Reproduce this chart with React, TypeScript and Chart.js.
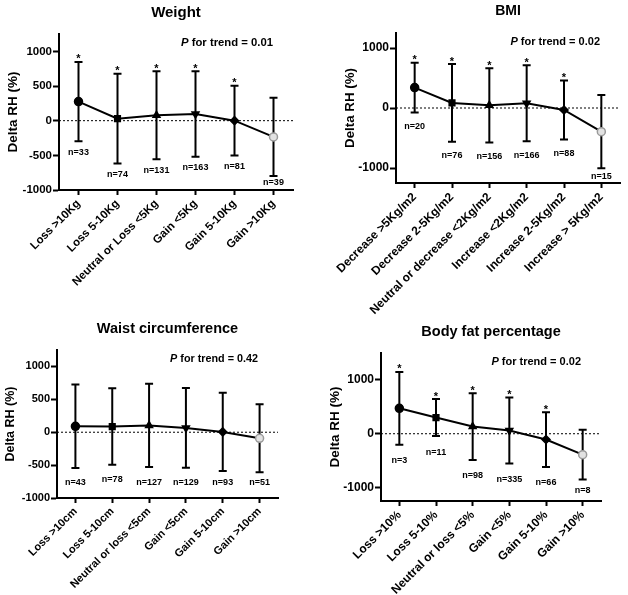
import React, { useEffect, useRef } from "react";
import { Chart, registerables } from "chart.js";

Chart.register(...registerables);

const FONT = "'Liberation Sans', Arial, Helvetica, sans-serif";

// ---------- Weight ----------
const weightCategories = ["Loss >10Kg", "Loss 5-10Kg", "Neutral or Loss <5Kg", "Gain <5Kg", "Gain 5-10Kg", "Gain >10Kg"];
const weightMeans = [275, 29, 78, 96, 0, -234];
const weightSD = [572, 647, 633, 618, 502, 563];
const weightN = [33, 74, 131, 163, 81, 39];
const weightStar = [true, true, true, true, true, false];
const weightP = "0.01";
const weightYTicks = [-1000, -500, 0, 500, 1000];

// ---------- BMI ----------
const bmiCategories = ["Decrease >5Kg/m2", "Decrease 2-5Kg/m2", "Neutral or decrease <2Kg/m2", "Increase <2Kg/m2", "Increase 2-5Kg/m2", "Increase > 5Kg/m2"];
const bmiMeans = [340, 85, 44, 78, -33, -394];
const bmiSD = [416, 648, 617, 634, 490, 609];
const bmiN = [20, 76, 156, 166, 88, 15];
const bmiStar = [true, true, true, true, true, false];
const bmiP = "0.02";
const bmiYTicks = [-1000, 0, 1000];

// ---------- Waist circumference ----------
const waistCategories = ["Loss >10cm", "Loss 5-10cm", "Neutral or loss <5cm", "Gain <5cm", "Gain 5-10cm", "Gain >10cm"];
const waistMeans = [90, 86, 104, 66, 5, -92];
const waistSD = [634, 581, 634, 606, 594, 518];
const waistN = [43, 78, 127, 129, 93, 51];
const waistStar = [false, false, false, false, false, false];
const waistP = "0.42";
const waistYTicks = [-1000, -500, 0, 500, 1000];

// ---------- Body fat percentage ----------
const fatCategories = ["Loss >10%", "Loss 5-10%", "Neutral or loss <5%", "Gain <5%", "Gain 5-10%", "Gain >10%"];
const fatMeans = [472, 300, 133, 60, -108, -389];
const fatSD = [676, 343, 621, 612, 509, 463];
const fatN = [3, 11, 98, 335, 66, 8];
const fatStar = [true, true, true, true, true, false];
const fatP = "0.02";
const fatYTicks = [-1000, 0, 1000];

const pointStyles = ["circle", "rect", "triangle", "triangle", "rectRot", "circle"];
const pointRotations = [0, 0, 0, 180, 0, 0];
const pointFills = ["#000", "#000", "#000", "#000", "#000", "#e2e2e2"];
const pointStrokes = ["#000", "#000", "#000", "#000", "#000", "#9a9a9a"];

type PanelCfg = {
  title: string;
  categories: string[];
  means: number[];
  sd: number[];
  n: number[];
  star: boolean[];
  p: string;
  yTicks: number[];
  yMin: number;
  yMax: number;
  box: { left: number; top: number; width: number; height: number };
  area: { left: number; right: number; top: number; bottom: number };
  fonts: { tick: number; x: number; yTitle: number; title: number; p: number; n: number; star: number };
  nOffset: number;
  nClamp: number;
};

const panels: PanelCfg[] = [
  {
    title: "Weight",
    categories: weightCategories, means: weightMeans, sd: weightSD, n: weightN, star: weightStar, p: weightP,
    yTicks: weightYTicks, yMin: -1000, yMax: 1250,
    box: { left: 0, top: 0, width: 314, height: 300 },
    area: { left: 59, right: 293, top: 34, bottom: 190 },
    fonts: { tick: 11.5, x: 11.5, yTitle: 13.5, title: 15, p: 11.3, n: 9, star: 11 },
    nOffset: 11, nClamp: 7,
  },
  {
    title: "BMI",
    categories: bmiCategories, means: bmiMeans, sd: bmiSD, n: bmiN, star: bmiStar, p: bmiP,
    yTicks: bmiYTicks, yMin: -1250, yMax: 1250,
    box: { left: 314, top: 0, width: 314, height: 330 },
    area: { left: 82, right: 306, top: 33, bottom: 183 },
    fonts: { tick: 12, x: 12, yTitle: 13.3, title: 14, p: 11, n: 9, star: 11 },
    nOffset: 14, nClamp: 6,
  },
  {
    title: "Waist circumference",
    categories: waistCategories, means: waistMeans, sd: waistSD, n: waistN, star: waistStar, p: waistP,
    yTicks: waistYTicks, yMin: -1000, yMax: 1250,
    box: { left: 0, top: 300, width: 314, height: 295 },
    area: { left: 57, right: 278, top: 50, bottom: 198 },
    fonts: { tick: 11, x: 11, yTitle: 12.5, title: 14.5, p: 10.8, n: 9, star: 11 },
    nOffset: 15, nClamp: 15,
  },
  {
    title: "Body fat percentage",
    categories: fatCategories, means: fatMeans, sd: fatSD, n: fatN, star: fatStar, p: fatP,
    yTicks: fatYTicks, yMin: -1250, yMax: 1500,
    box: { left: 314, top: 300, width: 314, height: 295 },
    area: { left: 67, right: 287, top: 53, bottom: 201 },
    fonts: { tick: 12, x: 12, yTitle: 13.5, title: 14.5, p: 11, n: 9, star: 11 },
    nOffset: 16, nClamp: 10,
  },
];

const makeDecor = (cfg: PanelCfg) => ({
  id: "panelDecor",
  beforeDatasetsDraw(chart: any) {
    const { ctx, chartArea: a, scales } = chart;
    const x = scales.x;
    const y = scales.y;
    ctx.save();
    const y0 = y.getPixelForValue(0);
    ctx.strokeStyle = "#000";
    ctx.lineWidth = 1;
    ctx.setLineDash([2, 2]);
    ctx.beginPath();
    ctx.moveTo(a.left, y0);
    ctx.lineTo(a.right, y0);
    ctx.stroke();
    ctx.setLineDash([]);
    ctx.lineWidth = 2;
    cfg.means.forEach((m, i) => {
      const px = x.getPixelForValue(i);
      const yt = y.getPixelForValue(m + cfg.sd[i]);
      const yb = y.getPixelForValue(m - cfg.sd[i]);
      ctx.beginPath();
      ctx.moveTo(px, yt);
      ctx.lineTo(px, yb);
      ctx.moveTo(px - 4, yt);
      ctx.lineTo(px + 4, yt);
      ctx.moveTo(px - 4, yb);
      ctx.lineTo(px + 4, yb);
      ctx.stroke();
    });
    ctx.restore();
  },
  afterDraw(chart: any) {
    const { ctx, chartArea: a, scales } = chart;
    const x = scales.x;
    const y = scales.y;
    ctx.save();
    ctx.fillStyle = "#000";
    // title
    ctx.font = `bold ${cfg.fonts.title}px ${FONT}`;
    ctx.textAlign = "center";
    ctx.textBaseline = "middle";
    ctx.fillText(cfg.title, (a.left + a.right) / 2, a.top - 21.5);
    // y title
    ctx.save();
    ctx.translate(a.left - 46, (a.top + a.bottom) / 2);
    ctx.rotate(-Math.PI / 2);
    ctx.font = `bold ${cfg.fonts.yTitle}px ${FONT}`;
    ctx.fillText("Delta RH (%)", 0, 0);
    ctx.restore();
    // P for trend
    const rest = ` for trend = ${cfg.p}`;
    ctx.font = `bold ${cfg.fonts.p}px ${FONT}`;
    const wRest = ctx.measureText(rest).width;
    ctx.font = `italic bold ${cfg.fonts.p}px ${FONT}`;
    const wP = ctx.measureText("P").width;
    const endX = a.right - 20;
    const py = a.top + 9;
    ctx.textAlign = "left";
    ctx.fillText("P", endX - wRest - wP, py);
    ctx.font = `bold ${cfg.fonts.p}px ${FONT}`;
    ctx.fillText(rest, endX - wRest, py);
    // n labels and stars
    ctx.textAlign = "center";
    cfg.means.forEach((m, i) => {
      const px = x.getPixelForValue(i);
      const yt = y.getPixelForValue(m + cfg.sd[i]);
      const yb = y.getPixelForValue(m - cfg.sd[i]);
      ctx.font = `bold ${cfg.fonts.n}px ${FONT}`;
      ctx.textBaseline = "middle";
      const ny = Math.min(yb + cfg.nOffset, a.bottom - cfg.nClamp);
      ctx.fillText(`n=${cfg.n[i]}`, px, ny);
      if (cfg.star[i]) {
        ctx.font = `bold ${cfg.fonts.star}px ${FONT}`;
        ctx.textBaseline = "alphabetic";
        ctx.fillText("*", px, yt + 0.5);
      }
    });
    ctx.restore();
  },
});

function Panel({ cfg }: { cfg: PanelCfg }) {
  const ref = useRef<HTMLCanvasElement | null>(null);
  useEffect(() => {
    if (!ref.current) return;
    const { box, area } = cfg;
    const yAxisWidth = 50;
    const chart = new Chart(ref.current, {
      type: "line",
      data: {
        labels: cfg.categories,
        datasets: [
          {
            data: cfg.means,
            borderColor: "#000",
            borderWidth: 2,
            tension: 0,
            pointStyle: pointStyles as any,
            pointRotation: pointRotations,
            pointRadius: 4,
            pointBackgroundColor: pointFills,
            pointBorderColor: pointStrokes,
            pointBorderWidth: 1.5,
            clip: false as any,
          },
        ],
      },
      options: {
        animation: false,
        responsive: false,
        devicePixelRatio: 1,
        events: [],
        layout: {
          padding: { left: area.left - yAxisWidth, right: box.width - area.right, top: area.top, bottom: 0 },
        },
        plugins: { legend: { display: false }, title: { display: false }, tooltip: { enabled: false } },
        scales: {
          x: {
            type: "category",
            offset: true,
            grid: { display: true, drawOnChartArea: false, drawTicks: true, tickLength: 5, tickColor: "#000", tickWidth: 2, offset: false },
            border: { display: true, color: "#000", width: 2 },
            ticks: {
              autoSkip: false,
              minRotation: 45,
              maxRotation: 45,
              color: "#000",
              padding: 2,
              font: { family: FONT, size: cfg.fonts.x, weight: "bold" },
            },
            afterFit: (s: any) => {
              s.height = box.height - area.bottom;
            },
          },
          y: {
            type: "linear",
            min: cfg.yMin,
            max: cfg.yMax,
            afterBuildTicks: (s: any) => {
              s.ticks = cfg.yTicks.map((v) => ({ value: v }));
            },
            grid: { display: true, drawOnChartArea: false, drawTicks: true, tickLength: 6, tickColor: "#000", tickWidth: 2 },
            border: { display: true, color: "#000", width: 2 },
            ticks: {
              color: "#000",
              padding: 1,
              font: { family: FONT, size: cfg.fonts.tick, weight: "bold" },
              callback: (v: any) => String(v),
            },
            afterFit: (s: any) => {
              s.width = yAxisWidth;
            },
          },
        },
      },
      plugins: [makeDecor(cfg)],
    } as any);
    return () => chart.destroy();
  }, [cfg]);
  return (
    <canvas
      ref={ref}
      width={cfg.box.width}
      height={cfg.box.height}
      style={{
        position: "absolute",
        left: cfg.box.left,
        top: cfg.box.top,
        width: cfg.box.width,
        height: cfg.box.height,
      }}
    />
  );
}

export default function App() {
  return (
    <div style={{ position: "absolute", left: 0, top: 0, width: 628, height: 595, background: "#fff" }}>
      {panels.map((p) => (
        <Panel key={p.title} cfg={p} />
      ))}
    </div>
  );
}
